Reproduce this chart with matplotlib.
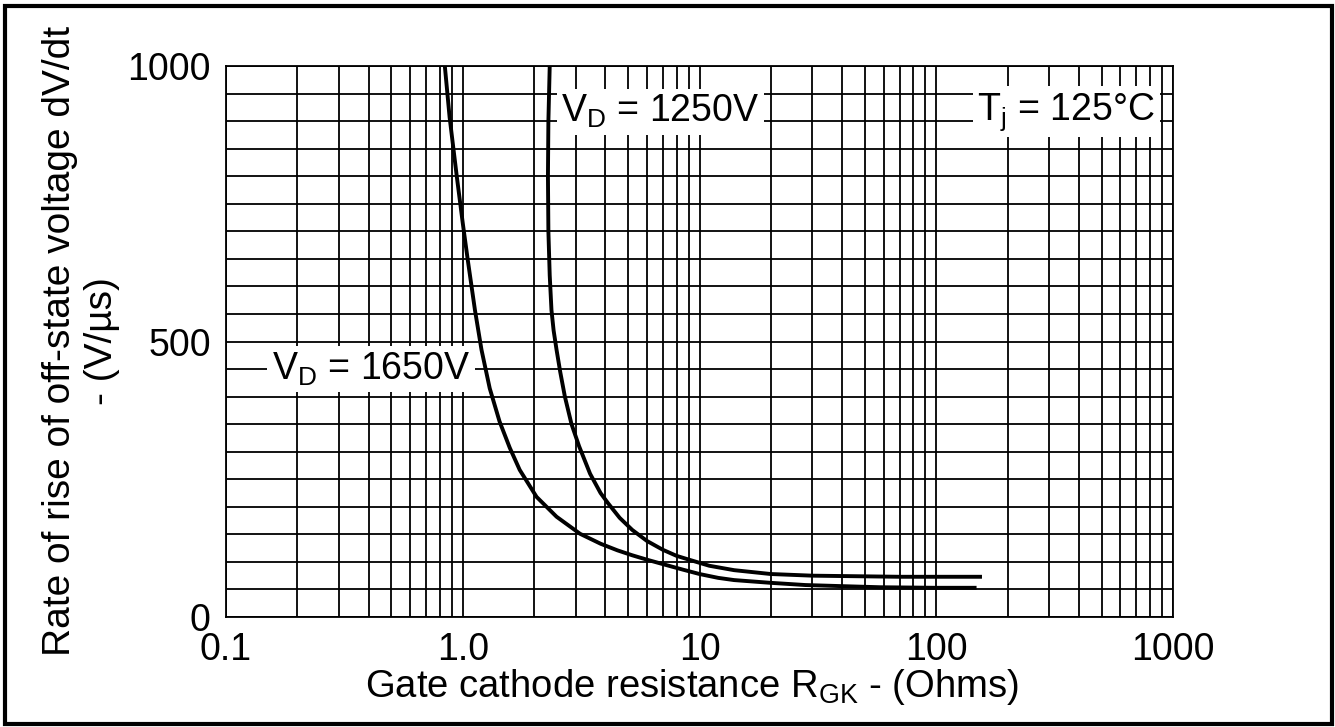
import numpy as np
import matplotlib.pyplot as plt
from matplotlib.patches import Rectangle

plt.rcParams['font.family'] = 'Liberation Sans'
plt.rcParams['mathtext.fontset'] = 'custom'
plt.rcParams['mathtext.rm'] = 'Liberation Sans'

# curve VD = 1650V (resistenza in Ohm, dV/dt in V/us)
r_1650 = [0.84, 0.88, 0.944, 1.0, 1.05, 1.126, 1.20, 1.30, 1.43, 1.58, 1.74, 2.05, 2.49, 3.13, 3.82,
          4.5, 5.2, 6.0, 7.0, 8.5, 10, 12, 14, 20, 28, 40, 58, 100, 148]
dv_1650 = [1000, 907, 799, 715, 648, 557, 485, 415, 355, 307, 267, 218, 182, 151, 133,
           121, 112, 104, 96, 86, 78, 71, 67, 62, 58, 56, 54, 53, 53]

# curve VD = 1250V
r_1250 = [2.33, 2.30, 2.29, 2.30, 2.33, 2.37, 2.42, 2.49, 2.58, 2.70, 2.88, 3.1, 3.45, 3.82, 4.1,
          4.6, 5.2, 6.0, 7.0, 8.0, 9.2, 11, 14, 20, 30, 46, 70, 100, 156]
dv_1250 = [1000, 900, 800, 700, 620, 557, 520, 485, 445, 400, 350, 310, 260, 225, 207,
           180, 158, 138, 122, 111, 103, 93, 85, 78, 75, 74, 73, 73, 73]

x_ticks = [0.1, 1, 10, 100, 1000]
x_labels = ['0.1', '1.0', '10', '100', '1000']
y_ticks = [0, 500, 1000]

fig = plt.figure(figsize=(13.35, 7.27), dpi=100)
ax = fig.add_axes([226/1335, 110/727, 947/1335, 551/727])

ax.plot(r_1650, dv_1650, color='black', lw=2.8, solid_capstyle='butt', solid_joinstyle='round', zorder=2)
ax.plot(r_1250, dv_1250, color='black', lw=2.8, solid_capstyle='butt', solid_joinstyle='round', zorder=2)

ax.set_xscale('log')
ax.set_xlim(0.1, 1000)
ax.set_ylim(0, 1000)
ax.set_xticks(x_ticks)
ax.set_xticklabels(x_labels)
minori = [m * 10.0**k for k in range(-1, 3) for m in range(2, 10)]
ax.set_xticks(minori, minor=True)
ax.set_xticklabels([], minor=True)
ax.set_yticks(y_ticks)
ax.set_yticks(np.arange(0, 1001, 50), minor=True)
ax.tick_params(which='both', length=0, labelsize=27, pad=11)
ax.grid(which='both', color='black', lw=1.3)
ax.set_axisbelow(True)
for s in ax.spines.values():
    s.set_linewidth(1.3)

box = dict(boxstyle='square,pad=0.12', facecolor='white', edgecolor='none')
ax.text(0.41, 450, r'V$_\mathregular{D}$ = 1650V', fontsize=27, ha='center', va='center', bbox=box, zorder=3)
ax.text(6.84, 917, r'V$_\mathregular{D}$ = 1250V', fontsize=27, ha='center', va='center', bbox=box, zorder=3)
ax.text(354, 917, r'T$_\mathregular{j}$ = 125°C', fontsize=27, ha='center', va='center', bbox=box, zorder=3)

fig.text(81/1335, 1 - 341/727, 'Rate of rise of off-state voltage dV/dt\n- (V/µs)', rotation=90,
         fontsize=28, ha='center', va='center', multialignment='center', linespacing=1.2)
fig.text(692/1335, 30/727, r'Gate cathode resistance R$_\mathregular{GK}$ - (Ohms)',
         fontsize=27.5, ha='center', va='baseline')

# cornice attorno alla figura
fig.patches.append(Rectangle((5/1335, 3/727), 1327/1335, 718.5/727, transform=fig.transFigure,
                             fill=False, edgecolor='black', lw=3))

fig.savefig('out.png')
